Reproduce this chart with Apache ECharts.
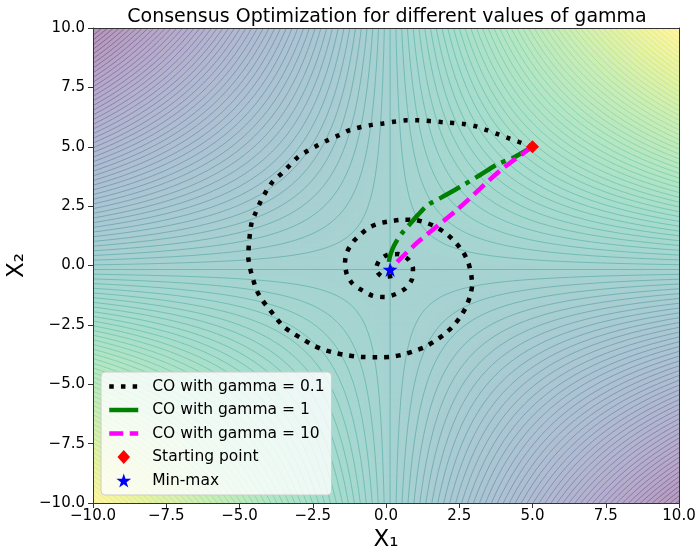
<!DOCTYPE html>
<html><head><meta charset="utf-8">
<script src="https://cdn.jsdelivr.net/npm/echarts@6/dist/echarts.min.js"></script>
<style>html,body{margin:0;padding:0;background:#fff}#c{width:697px;height:558px}</style>
</head><body><div id="c"></div>
<script>
// ---------- data ----------
const startPoint = [5, 5];
const minMax = [0.14, -0.17];
const pathGamma01 = [[5.00,5.00],[4.54,5.20],[4.16,5.37],[3.79,5.54],[3.41,5.71],[3.04,5.87],[2.66,5.96],[2.29,6.00],[1.88,6.04],[1.50,6.08],[1.09,6.12],[0.72,6.12],[0.31,6.06],[-0.10,5.98],[-0.48,5.92],[-0.85,5.83],[-1.26,5.69],[-1.60,5.49],[-1.98,5.28],[-2.32,5.07],[-2.66,4.84],[-3.00,4.57],[-3.28,4.23],[-3.55,3.89],[-3.86,3.54],[-4.06,3.18],[-4.27,2.72],[-4.44,2.25],[-4.58,1.83],[-4.64,1.37],[-4.68,0.91],[-4.70,0.36],[-4.64,-0.11],[-4.54,-0.57],[-4.42,-1.03],[-4.23,-1.45],[-3.99,-1.83],[-3.75,-2.21],[-3.50,-2.57],[-3.17,-2.86],[-2.83,-3.11],[-2.49,-3.36],[-2.15,-3.54],[-1.74,-3.68],[-1.37,-3.77],[-0.99,-3.84],[-0.58,-3.86],[-0.17,-3.86],[0.20,-3.84],[0.58,-3.75],[0.96,-3.60],[1.33,-3.43],[1.67,-3.18],[2.01,-2.88],[2.29,-2.55],[2.53,-2.17],[2.73,-1.75],[2.87,-1.28],[2.94,-0.82],[2.90,-0.32],[2.80,0.15],[2.63,0.57],[2.39,0.95],[2.10,1.30],[1.74,1.60],[1.40,1.79],[0.99,1.92],[0.61,1.93],[0.24,1.88],[-0.17,1.79],[-0.55,1.62],[-0.85,1.33],[-1.13,0.99],[-1.33,0.57],[-1.40,0.11],[-1.33,-0.40],[-1.13,-0.78],[-0.78,-1.07],[-0.44,-1.28],[-0.03,-1.33],[0.34,-1.20],[0.68,-0.95],[0.89,-0.57],[0.92,-0.11],[0.75,0.27],[0.41,0.48],[0.03,0.44],[-0.24,0.19],[-0.34,-0.15],[-0.10,-0.48],[0.27,-0.40],[0.20,-0.15],[0.14,-0.17]];
const pathGamma1 = [[5.00,5.00],[4.33,4.53],[3.82,4.27],[3.21,3.81],[2.53,3.31],[1.91,2.88],[1.43,2.55],[1.09,2.13],[0.82,1.75],[0.58,1.41],[0.38,1.07],[0.22,0.69],[0.12,0.32],[0.10,0.05],[0.14,-0.17]];
const pathGamma10 = [[5.00,5.00],[3.92,4.02],[2.42,2.34],[1.09,0.99],[0.48,0.27],[0.14,-0.17]];
const seriesNames = ['CO with gamma = 0.1','CO with gamma = 1','CO with gamma = 10','Starting point','Min-max'];
const titleText = 'Consensus Optimization for different values of gamma';
const axisRange = [-10, 10];
const tickStep = 2.5;
const levelStep = 2;          // contour spacing of the function value
const levelRange = [-100, 100];

// objective surface: bilinear saddle centred at the min-max point
function objective(x, y) { return (x - minMax[0]) * (y - minMax[1]); }

// ---------- colours ----------
const VIR = ['#440154','#482475','#414487','#355f8d','#2a788e','#21918c','#22a884','#44bf70','#7ad151','#bddf26','#fde725'].map(h => [parseInt(h.slice(1,3),16),parseInt(h.slice(3,5),16),parseInt(h.slice(5,7),16)]);
function viridis(t) {
  t = Math.max(0, Math.min(1, t));
  const s = t * 10, i = Math.min(9, Math.floor(s)), f = s - i;
  return [0,1,2].map(k => VIR[i][k] + (VIR[i+1][k] - VIR[i][k]) * f);
}
function norm(v) { return (v - levelRange[0]) / (levelRange[1] - levelRange[0]); }
function fillColor(v) {
  const c = viridis(norm(v)), a = 0.4;
  return 'rgb(' + c.map(x => Math.round(255 + a * (x - 255))).join(',') + ')';
}
function lineColor(v) {
  const c = viridis(norm(v));
  return 'rgba(' + c.map(Math.round).join(',') + ',0.5)';
}

// ---------- grids built from the above ----------
const cellSize = 0.1;
const cells = [];
for (let x = axisRange[0] + cellSize / 2; x < axisRange[1]; x += cellSize)
  for (let y = axisRange[0] + cellSize / 2; y < axisRange[1]; y += cellSize)
    cells.push([x, y, objective(x, y)]);
const levels = [];
for (let c = levelRange[0]; c <= levelRange[1]; c += levelStep) levels.push([0, 0, c]);

const FONT = 'DejaVu Sans';
const fmt = v => (v < 0 ? '\u2212' : '') + Math.abs(v).toFixed(1);
const starPath = 'path://M0,-1L0.2245,-0.309L0.951,-0.309L0.363,0.118L0.588,0.809L0,0.382L-0.588,0.809L-0.363,0.118L-0.951,-0.309L-0.2245,-0.309Z';
const diamondPath = 'path://M0,-1L0.9,0L0,1L-0.9,0Z';
const hiddenSymbol = {opacity: 0};

const chart = echarts.init(document.getElementById('c'), null, {renderer: 'canvas'});
chart.setOption({
  animation: false,
  backgroundColor: '#ffffff',
  title: {
    text: titleText, left: 382, top: 3, textAlign: 'center',
    textStyle: {fontFamily: FONT, fontSize: 19, fontWeight: 'normal', color: '#000'}
  },
  grid: {left: 93, right: 18, top: 28, bottom: 55, containLabel: false, outerBoundsMode: 'none'},
  legend: {
    orient: 'vertical', left: 101, top: 372, z: 20,
    data: [
      {name: seriesNames[0], itemStyle: hiddenSymbol},
      {name: seriesNames[1], itemStyle: hiddenSymbol, lineStyle: {type: 'solid'}},
      {name: seriesNames[2], itemStyle: hiddenSymbol},
      {name: seriesNames[3]},
      {name: seriesNames[4]}
    ],
    itemWidth: 29, itemHeight: 14, itemGap: 7.5,
    padding: [6.5, 7, 6.5, 6],
    backgroundColor: 'rgba(255,255,255,0.8)', borderColor: '#cccccc', borderWidth: 1, borderRadius: 4,
    textStyle: {fontFamily: FONT, fontSize: 15.5, color: '#000', lineHeight: 16, padding: [0, 0, 0, 9]},
    lineStyle: {width: 4.5},
    selectedMode: false
  },
  xAxis: [{
    type: 'value', min: axisRange[0], max: axisRange[1], interval: tickStep, position: 'bottom', z: 10,
    name: 'X\u2081', nameLocation: 'middle', nameGap: 26,
    nameTextStyle: {fontFamily: FONT, fontSize: 23, color: '#000'},
    axisLine: {show: true, onZero: false, lineStyle: {color: '#333', width: 1}},
    axisTick: {show: true, length: 5, lineStyle: {color: '#333', width: 1}},
    axisLabel: {fontFamily: FONT, fontSize: 15, color: '#000', margin: 6, formatter: fmt, showMinLabel: true, showMaxLabel: true},
    splitLine: {show: false}
  }, {
    type: 'value', min: axisRange[0], max: axisRange[1], position: 'top', z: 10,
    axisLine: {show: true, onZero: false, lineStyle: {color: '#333', width: 1}},
    axisTick: {show: false}, axisLabel: {show: false}, splitLine: {show: false}
  }],
  yAxis: [{
    type: 'value', min: axisRange[0], max: axisRange[1], interval: tickStep, position: 'left', z: 10,
    name: 'X\u2082', nameLocation: 'middle', nameGap: 50,
    nameTextStyle: {fontFamily: FONT, fontSize: 23, color: '#000'},
    axisLine: {show: true, onZero: false, lineStyle: {color: '#333', width: 1}},
    axisTick: {show: true, length: 5, lineStyle: {color: '#333', width: 1}},
    axisLabel: {fontFamily: FONT, fontSize: 15, color: '#000', margin: 8, formatter: fmt, showMinLabel: true, showMaxLabel: true},
    splitLine: {show: false}
  }, {
    type: 'value', min: axisRange[0], max: axisRange[1], position: 'right', z: 10,
    axisLine: {show: true, onZero: false, lineStyle: {color: '#333', width: 1}},
    axisTick: {show: false}, axisLabel: {show: false}, splitLine: {show: false}
  }],
  series: [
    {
      type: 'custom', name: 'surface', z: 1, silent: true, clip: true,
      progressive: 0, progressiveThreshold: 1e9,
      data: cells,
      encode: {x: 0, y: 1},
      renderItem: function (params, api) {
        const x = api.value(0), y = api.value(1), v = api.value(2), h = cellSize / 2;
        const p0 = api.coord([x - h, y + h]), p1 = api.coord([x + h, y - h]);
        return {type: 'rect', silent: true,
          shape: {x: p0[0], y: p0[1], width: p1[0] - p0[0] + 0.7, height: p1[1] - p0[1] + 0.7},
          style: {fill: fillColor(v), stroke: null}};
      }
    },
    {
      type: 'custom', name: 'contours', z: 2, silent: true, clip: true,
      progressive: 0, progressiveThreshold: 1e9,
      data: levels,
      encode: {x: 0, y: 1},
      renderItem: function (params, api) {
        const c = api.value(2), a = minMax[0], b = minMax[1];
        const style = {stroke: lineColor(c), lineWidth: 0.8, fill: null};
        const children = [];
        if (c === 0) {
          children.push({type: 'polyline', shape: {points: [api.coord([a, -11]), api.coord([a, 11])]}, style: style});
          children.push({type: 'polyline', shape: {points: [api.coord([-11, b]), api.coord([11, b])]}, style: style});
        } else {
          const ac = Math.abs(c), n = 160, uMin = ac / 11, uMax = 11;
          [1, -1].forEach(function (sgn) {
            const pts = [];
            for (let i = 0; i <= n; i++) {
              const u = sgn * uMin * Math.pow(uMax / uMin, i / n);
              pts.push(api.coord([a + u, b + c / u]));
            }
            children.push({type: 'polyline', shape: {points: pts}, style: style});
          });
        }
        return {type: 'group', children: children};
      }
    },
    {
      type: 'line', name: seriesNames[0], data: pathGamma01, z: 3,
      showSymbol: false, symbol: 'none', smooth: 0.25,
      itemStyle: {color: '#000000'},
      lineStyle: {color: '#000000', width: 4.5, type: [4.5, 7.2], cap: 'butt'}
    },
    {
      type: 'line', name: seriesNames[1], data: pathGamma1, z: 3,
      showSymbol: false, symbol: 'none', smooth: 0.3,
      itemStyle: {color: '#008000'},
      lineStyle: {color: '#008000', width: 4.5, type: [24, 6.5, 4.5, 6.5], cap: 'butt'}
    },
    {
      type: 'line', name: seriesNames[2], data: pathGamma10, z: 3,
      showSymbol: false, symbol: 'none', smooth: 0.3,
      itemStyle: {color: '#ff00ff'},
      lineStyle: {color: '#ff00ff', width: 4.5, type: [14, 6.5], cap: 'butt'}
    },
    {
      type: 'scatter', name: seriesNames[3], data: [startPoint], z: 4,
      symbol: diamondPath, symbolSize: 13, itemStyle: {color: '#ff0000', opacity: 1}
    },
    {
      type: 'scatter', name: seriesNames[4], data: [minMax], z: 4,
      symbol: starPath, symbolSize: 15, itemStyle: {color: '#0000ff', opacity: 1}
    }
  ]
});
</script>
</body></html>
